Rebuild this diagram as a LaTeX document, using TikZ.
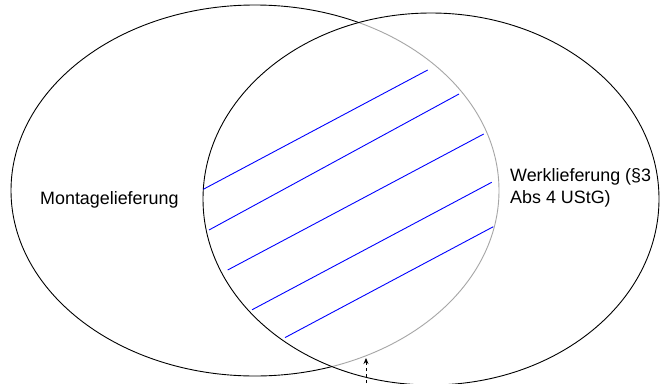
\documentclass[tikz,border=0pt]{standalone}
\usepackage{fontspec}
\setmainfont{Liberation Sans}
\usetikzlibrary{arrows.meta}
\begin{document}
\begin{tikzpicture}[x=1pt,y=-1pt,
  setline/.style={black,line width=0.9pt},
  hatch/.style={blue,line width=0.9pt},
  lbl/.style={font=\fontsize{17.9pt}{22pt}\selectfont,inner sep=0pt,align=left},
  pointer/.style={dashed,line width=0.8pt,-{Stealth[length=6pt,width=5pt]}}]
\useasboundingbox (0,0) rectangle (661,383);
% left ellipse (black outside the right set, grey inside it)
\draw[setline] (255,190.5) ellipse [x radius=244,y radius=185.5];
\begin{scope}
  \clip (431,199) ellipse [x radius=228,y radius=186];
  \draw[white,line width=2.5pt] (255,190.5) ellipse [x radius=244,y radius=185.5];
  \draw[gray!70,line width=0.9pt] (255,190.5) ellipse [x radius=244,y radius=185.5];
\end{scope}
% right ellipse
\draw[setline] (431,199) ellipse [x radius=228,y radius=186];
% hatching
\draw[hatch] (203.3,189.3) -- (427.7,70);
\draw[hatch] (209,230) -- (459,94);
\draw[hatch] (227.7,270) -- (483.7,134);
\draw[hatch] (252,309.8) -- (491.7,182.3);
\draw[hatch] (285,337.6) -- (493.3,226.7);
% labels
\node[lbl,anchor=base west] (mont) at (40,204) {Montagelieferung};
\node[lbl,anchor=base west] (werk) at (510,203) {Werklieferung (§3\\Abs 4 UStG)};
% pointer
\coordinate (pfrom) at (366,383);
\coordinate (pto) at (366,358);
\draw[pointer] (pfrom) -- (pto);
\end{tikzpicture}
\end{document}
